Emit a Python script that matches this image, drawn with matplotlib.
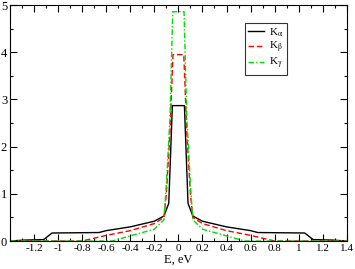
import matplotlib
matplotlib.use("Agg")
from matplotlib import pyplot as plt
from matplotlib.ticker import MultipleLocator

# K-alpha (black solid)
e_alpha = [-1.4, -1.28, -1.12, -1.05, -0.66, -0.6, -0.4, -0.2, -0.12, -0.08, -0.05, 0.05,
           0.08, 0.12, 0.2, 0.4, 0.6, 0.66, 1.05, 1.12, 1.28, 1.4]
k_alpha = [0.0, 0.02, 0.03, 0.17, 0.18, 0.22, 0.3, 0.42, 0.53, 0.8, 2.87, 2.87,
           0.8, 0.53, 0.42, 0.3, 0.22, 0.18, 0.17, 0.03, 0.02, 0.0]

# K-beta (red dashed)
e_beta = [-1.4, -0.8, -0.6, -0.4, -0.2, -0.12, -0.1, -0.07, -0.045, 0.045, 0.07, 0.1,
          0.12, 0.2, 0.4, 0.6, 0.8, 1.4]
k_beta = [0.0, 0.0, 0.12, 0.22, 0.37, 0.5, 1.0, 2.3, 3.95, 3.95, 2.3, 1.0,
          0.5, 0.37, 0.22, 0.12, 0.0, 0.0]

# K-gamma (green dash-dot)
e_gamma = [-1.4, -0.55, -0.4, -0.2, -0.12, -0.1, -0.07, -0.047, 0.047, 0.07, 0.1, 0.12,
           0.2, 0.4, 0.55, 1.4]
k_gamma = [0.0, 0.0, 0.11, 0.25, 0.45, 1.2, 2.6, 4.86, 4.86, 2.6, 1.2, 0.45,
           0.25, 0.11, 0.0, 0.0]

plt.rcParams['font.family'] = ['Liberation Serif', 'DejaVu Serif']
plt.rcParams['mathtext.fontset'] = 'stix'

fig = plt.figure(figsize=(3.55, 2.69), dpi=100)
ax = fig.add_axes([0.028, 0.104, 0.949, 0.877])

ax.plot(e_alpha, k_alpha, color='black', lw=1.0, label=r'K$_\mathrm{α}$')
ax.plot(e_beta, k_beta, color='red', lw=1.0, ls=(0, (4, 2)), label=r'K$_\mathrm{β}$')
ax.plot(e_gamma, k_gamma, color='#00dd00', lw=1.0, ls=(0, (4, 1.5, 1, 1.5)), label=r'K$_\mathrm{γ}$')

ax.set_xlim(-1.4, 1.4)
ax.set_ylim(0, 5)
ax.xaxis.set_major_locator(MultipleLocator(0.2))
ax.xaxis.set_minor_locator(MultipleLocator(0.1))
ax.yaxis.set_major_locator(MultipleLocator(1))
ax.yaxis.set_minor_locator(MultipleLocator(0.5))
ax.tick_params(which='both', direction='in', top=True, right=True, width=0.8)
ax.tick_params(which='major', length=5)
ax.tick_params(which='minor', length=2.5)
ax.tick_params(axis='x', labelsize=8, pad=2)
ax.tick_params(axis='y', labelsize=9, pad=2)

xt = [-1.2, -1.0, -0.8, -0.6, -0.4, -0.2, 0, 0.2, 0.4, 0.6, 0.8, 1.0, 1.2, 1.4]
ax.set_xticks(xt)
ax.set_xticklabels(['%g' % v for v in xt])
ax.set_yticks([0, 1, 2, 3, 4, 5])

ax.set_xlabel('E, eV', fontsize=9, labelpad=1)

leg = ax.legend(loc='upper left', bbox_to_anchor=(0.697, 0.924), borderaxespad=0,
                fontsize=8, frameon=True, fancybox=False, edgecolor='black',
                handlelength=1.4, borderpad=0.3, labelspacing=0.1, handletextpad=0.5)
leg.get_frame().set_linewidth(0.8)

plt.savefig('out.png', dpi=100)
plt.close()
